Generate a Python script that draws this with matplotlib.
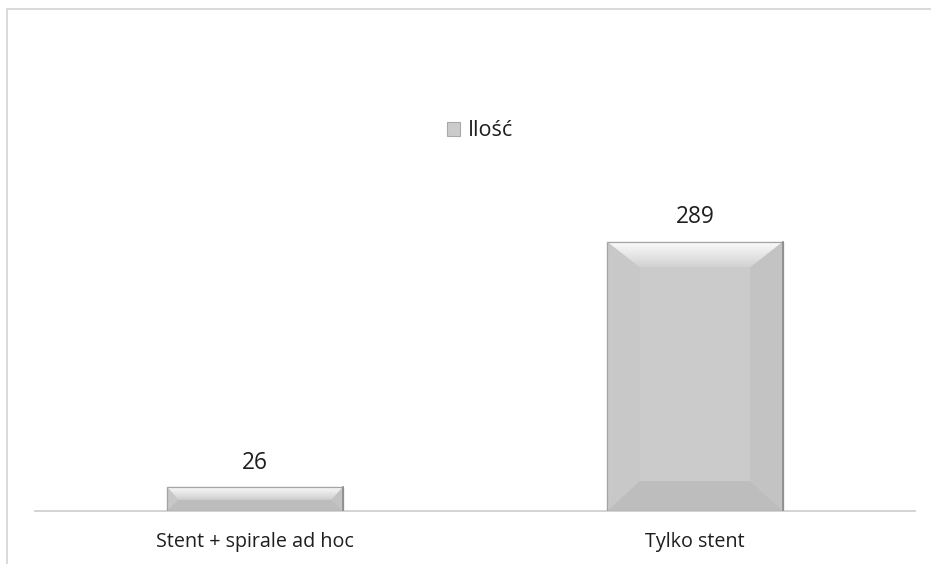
import numpy as np
import matplotlib
matplotlib.use("Agg")
import matplotlib.pyplot as plt
from matplotlib.patches import Polygon, Rectangle

categories = ["Stent + spirale ad hoc", "Tylko stent"]
values = [26, 289]
series_name = "Ilość"

W, H = 931, 564
fig = plt.figure(figsize=(W / 100, H / 100), dpi=100)
plt.rcParams["font.family"] = ["Open Sans", "DejaVu Sans"]

# plot area in pixels
x0, x1 = 35, 915
y_base, y_top = 511, 30
ax = fig.add_axes([x0 / W, 1 - y_base / H, (x1 - x0) / W, (y_base - y_top) / H])

# outer chart border
fig.patches.append(Rectangle((7 / W, -0.05), 1.2, 1 - 9 / H + 0.05,
                             transform=fig.transFigure, fill=False,
                             edgecolor="#d9d9d9", lw=1.4, zorder=0))

x = np.arange(len(categories))
ymax = 289 * (y_base - y_top) / 269.5
ax.set_xlim(-0.5, len(categories) - 0.5)
ax.set_ylim(0, ymax)
bars = ax.bar(x, values, width=0.4, color="#cbcbcb", edgecolor="#a8a8a8",
              linewidth=0.8, zorder=2, label=series_name)

for s in ["top", "right", "left"]:
    ax.spines[s].set_visible(False)
ax.spines["bottom"].set_color("#d0d0d0")
ax.spines["bottom"].set_linewidth(1.3)
ax.set_yticks([])
ax.set_xticks(x)
ax.set_xticklabels(categories, fontsize=14.2, color="#1e1e1e")
ax.tick_params(axis="x", length=0, pad=15)

fig.canvas.draw()
to_data = ax.transData.inverted()


def poly(pts, color, z=3):
    p = Polygon(to_data.transform(pts), closed=True, facecolor=color,
                edgecolor="none", zorder=z)
    ax.add_patch(p)
    return p


cmap_top = matplotlib.colors.LinearSegmentedColormap.from_list(
    "bev_top", ["#d2d2d2", "#fcfcfc"])

# bevelled faces drawn on top of each bar
for rect in bars:
    bb = rect.get_window_extent()
    L, R, B, T = bb.x0, bb.x1, bb.y0, bb.y1
    h = T - B
    bw = min(33, h * 0.45)
    bt = min(26, h * 0.5)
    bbm = min(30, h * 0.45)
    iL, iR, iT, iB = L + bw, R - bw, T - bt, B + bbm
    # left / right faces
    poly([(L, B), (L, T), (iL, iT), (iL, iB)], "#c8c8c8")
    poly([(R, B), (R, T), (iR, iT), (iR, iB)], "#c3c3c3")
    # bottom face
    poly([(L, B), (R, B), (iR, iB), (iL, iB)], "#bdbdbd")
    # top face with a light gradient
    top = poly([(L, T), (R, T), (iR, iT), (iL, iT)], "none")
    grad = np.linspace(0.0, 1.0, 64).reshape(-1, 1)
    (dx0, dy0) = to_data.transform((L, iT))
    (dx1, dy1) = to_data.transform((R, T))
    im = ax.imshow(grad, cmap=cmap_top, extent=(dx0, dx1, dy0, dy1),
                   aspect="auto", zorder=3, origin="lower")
    im.set_clip_path(top)
    # centre face
    poly([(iL, iB), (iR, iB), (iR, iT), (iL, iT)], "#cbcbcb")
    # outline, a touch darker on the right
    ax.add_patch(Polygon(to_data.transform([(L, B), (L, T), (R, T), (R, B)]),
                         closed=True, fill=False, edgecolor="#a4a4a4",
                         lw=0.9, zorder=4))
    ax.plot(*to_data.transform([(R, B), (R, T)]).T, color="#8c8c8c",
            lw=1.2, zorder=4)

ax.set_xlim(-0.5, len(categories) - 0.5)
ax.set_ylim(0, ymax)

for xi, v in zip(x, values):
    ax.annotate(f"{v}", (xi, v), xytext=(0, 13), textcoords="offset points",
                ha="center", va="baseline", fontsize=16.3, color="#1e1e1e")

leg = fig.legend(handles=[bars[0]], labels=[series_name], loc="center",
                 bbox_to_anchor=(480 / W, 1 - 131 / H), frameon=False,
                 fontsize=15.5, handlelength=0.6, handleheight=0.6,
                 handletextpad=0.4, labelcolor="#1e1e1e")

fig.savefig("out.png", dpi=100)
